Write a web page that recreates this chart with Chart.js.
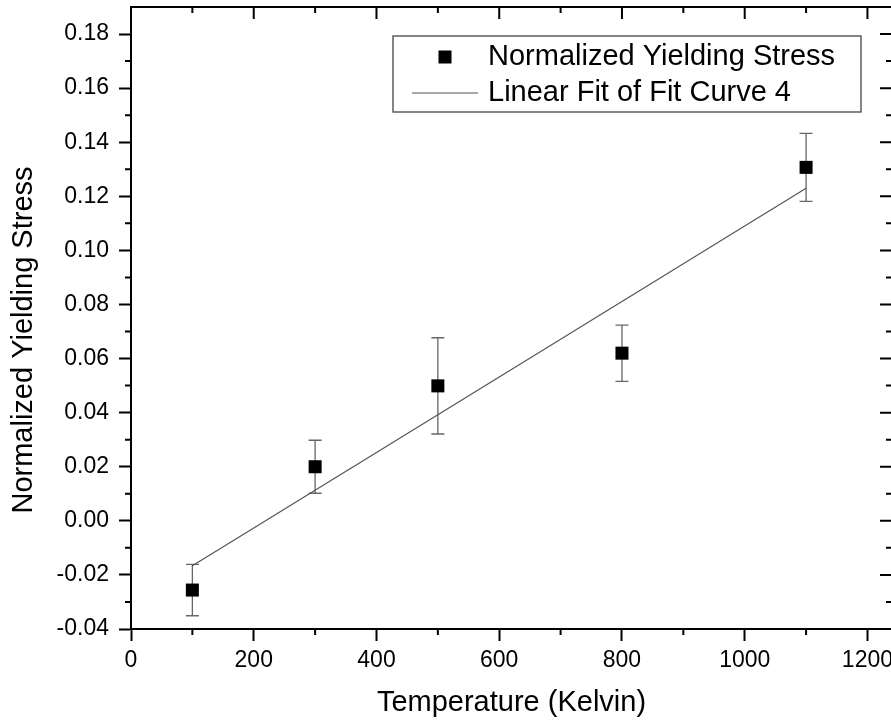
<!DOCTYPE html>
<html>
<head>
<meta charset="utf-8">
<script src="https://cdn.jsdelivr.net/npm/chart.js@4.4.0/dist/chart.umd.min.js"></script>
<style>
  html, body { margin: 0; padding: 0; background: #fff; overflow: hidden; }
  #wrap { position: relative; width: 900px; height: 723px; }
</style>
</head>
<body>
<div id="wrap"><canvas id="chart"></canvas></div>
<script>
// values
const temps = [100, 300, 500, 800, 1100];
const stress = [-0.0256, 0.0200, 0.0499, 0.0620, 0.1307];
const stressErr = [0.0095, 0.0098, 0.0178, 0.0104, 0.0126];

const fitTemps = [100, 1100];
const fitStress = [-0.0166, 0.1230];

const xTicks = [0, 200, 400, 600, 800, 1000, 1200];
const xMinor = [100, 300, 500, 700, 900, 1100];
const yTicks = [-0.04, -0.02, 0.00, 0.02, 0.04, 0.06, 0.08, 0.10, 0.12, 0.14, 0.16, 0.18];
const yMinor = [-0.03, -0.01, 0.01, 0.03, 0.05, 0.07, 0.09, 0.11, 0.13, 0.15, 0.17];

const seriesLabels = ['Normalized Yielding Stress', 'Linear Fit of Fit Curve 4'];
const xTitle = 'Temperature (Kelvin)';
const yTitle = 'Normalized Yielding Stress';

const FONT = '"Liberation Sans", Arial, sans-serif';

// error bars, drawn under the markers
const errorBars = {
  id: 'errorBars',
  beforeDatasetsDraw(chart) {
    const { ctx, scales: { x, y } } = chart;
    ctx.save();
    ctx.strokeStyle = '#666';
    ctx.lineWidth = 1.3;
    temps.forEach((t, i) => {
      const px = x.getPixelForValue(t);
      const top = y.getPixelForValue(stress[i] + stressErr[i]);
      const bot = y.getPixelForValue(stress[i] - stressErr[i]);
      ctx.beginPath();
      ctx.moveTo(px, top); ctx.lineTo(px, bot);
      ctx.moveTo(px - 6.5, top); ctx.lineTo(px + 6.5, top);
      ctx.moveTo(px - 6.5, bot); ctx.lineTo(px + 6.5, bot);
      ctx.stroke();
    });
    ctx.restore();
  }
};

// box frame, minor ticks, inward ticks on top/right, y title, legend
const decorations = {
  id: 'decorations',
  afterDraw(chart) {
    const { ctx, chartArea: a, scales: { x, y } } = chart;
    ctx.save();
    ctx.strokeStyle = '#000';
    ctx.lineWidth = 2;
    ctx.strokeRect(a.left, a.top, a.right - a.left, a.bottom - a.top);

    ctx.beginPath();
    xTicks.forEach(v => {
      const px = x.getPixelForValue(v);
      ctx.moveTo(px, a.top); ctx.lineTo(px, a.top + 12);
    });
    xMinor.forEach(v => {
      const px = x.getPixelForValue(v);
      ctx.moveTo(px, a.bottom); ctx.lineTo(px, a.bottom + 6);
      ctx.moveTo(px, a.top); ctx.lineTo(px, a.top + 6);
    });
    yTicks.forEach(v => {
      const py = y.getPixelForValue(v);
      ctx.moveTo(a.right, py); ctx.lineTo(a.right - 12, py);
    });
    yMinor.forEach(v => {
      const py = y.getPixelForValue(v);
      ctx.moveTo(a.left, py); ctx.lineTo(a.left - 6, py);
      ctx.moveTo(a.right, py); ctx.lineTo(a.right - 6, py);
    });
    ctx.stroke();

    // y axis title
    ctx.fillStyle = '#000';
    ctx.font = '29px ' + FONT;
    ctx.textAlign = 'center';
    ctx.textBaseline = 'middle';
    ctx.save();
    ctx.translate(24, 340);
    ctx.rotate(-Math.PI / 2);
    ctx.fillText(yTitle, 0, 0);
    ctx.restore();

    // legend box
    ctx.strokeStyle = '#444';
    ctx.lineWidth = 1.3;
    ctx.strokeRect(393, 36, 468, 76);
    ctx.fillStyle = '#000';
    ctx.fillRect(445 - 6.5, 57 - 6.5, 13, 13);
    ctx.strokeStyle = '#555';
    ctx.lineWidth = 1.2;
    ctx.beginPath();
    ctx.moveTo(412, 93); ctx.lineTo(478, 93);
    ctx.stroke();
    ctx.textAlign = 'left';
    ctx.fillText(chart.data.datasets[0].label, 488, 57);
    ctx.fillText(chart.data.datasets[1].label, 488, 93);
    ctx.restore();
  }
};

new Chart(document.getElementById('chart'), {
  type: 'scatter',
  data: {
    datasets: [
      {
        label: seriesLabels[0],
        data: temps.map((t, i) => ({ x: t, y: stress[i] })),
        pointStyle: 'rect',
        pointRadius: 9.2,
        pointHoverRadius: 9.2,
        backgroundColor: '#000',
        borderWidth: 0,
        order: 0
      },
      {
        label: seriesLabels[1],
        type: 'line',
        data: fitTemps.map((t, i) => ({ x: t, y: fitStress[i] })),
        borderColor: '#555',
        borderWidth: 1.2,
        pointRadius: 0,
        fill: false,
        order: 1
      }
    ]
  },
  options: {
    responsive: true,
    maintainAspectRatio: false,
    animation: false,
    layout: { autoPadding: false, padding: { top: 7, right: 8, left: 0, bottom: 0 } },
    plugins: {
      legend: { display: false },
      tooltip: { enabled: false }
    },
    scales: {
      x: {
        type: 'linear',
        min: 0,
        max: 1240,
        afterBuildTicks: scale => { scale.ticks = xTicks.map(v => ({ value: v })); },
        afterFit: scale => {
          scale.height = 94;
          scale.paddingLeft = 0;
          scale.paddingRight = 0;
        },
        grid: { drawOnChartArea: false, drawTicks: true, tickLength: 12, tickWidth: 2, tickColor: '#000' },
        border: { display: true, color: '#000', width: 2 },
        ticks: {
          autoSkip: false,
          maxRotation: 0,
          padding: 6,
          color: '#000',
          font: { family: FONT, size: 23 },
          callback: v => String(v)
        },
        title: {
          display: true,
          text: xTitle,
          color: '#000',
          font: { family: FONT, size: 29 },
          padding: { top: 0, bottom: 3 }
        }
      },
      y: {
        type: 'linear',
        min: -0.04,
        max: 0.19,
        afterBuildTicks: scale => { scale.ticks = yTicks.map(v => ({ value: v })); },
        afterFit: scale => {
          scale.width = 131;
          scale.paddingTop = 0;
          scale.paddingBottom = 0;
        },
        grid: { drawOnChartArea: false, drawTicks: true, tickLength: 12, tickWidth: 2, tickColor: '#000' },
        border: { display: true, color: '#000', width: 2 },
        ticks: {
          autoSkip: false,
          padding: 10,
          color: '#000',
          font: { family: FONT, size: 23 },
          callback: v => Number(v).toFixed(2)
        }
      }
    }
  },
  plugins: [errorBars, decorations]
});
</script>
</body>
</html>
